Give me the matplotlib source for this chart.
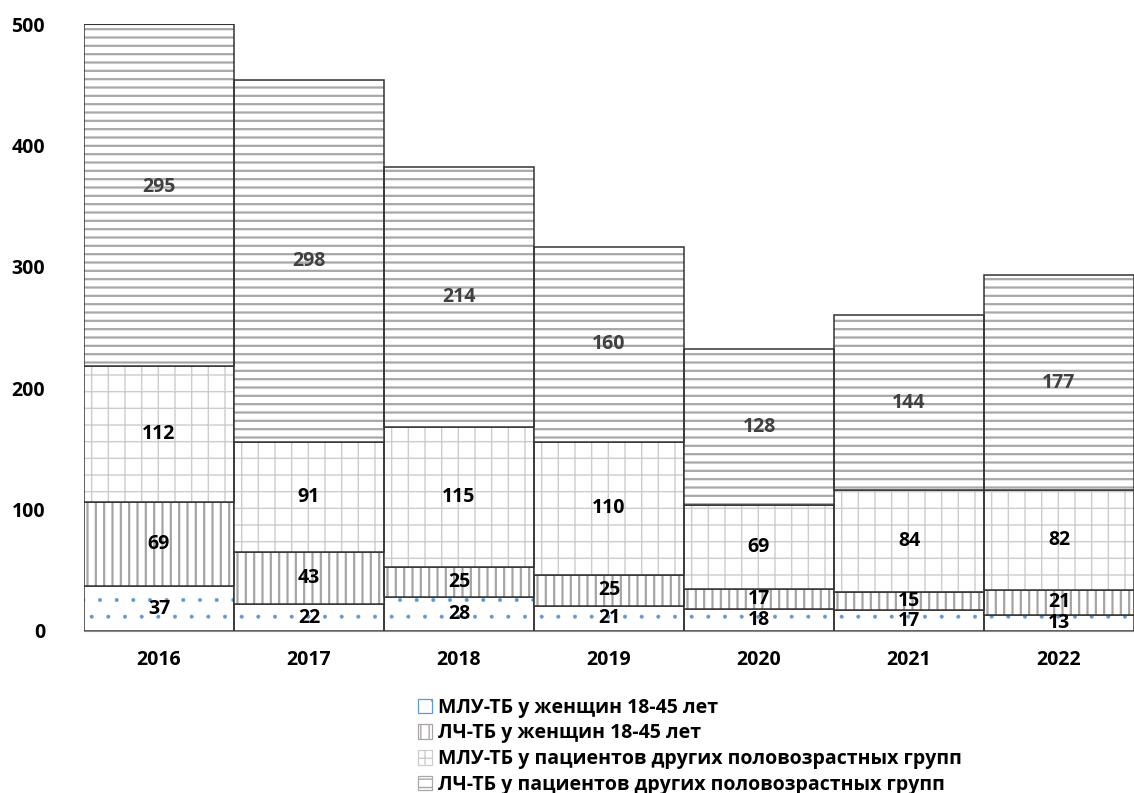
import numpy as np
import matplotlib
matplotlib.use('Agg')
import matplotlib.pyplot as plt
from matplotlib.patches import Patch

plt.rcParams['font.family'] = ['Open Sans', 'DejaVu Sans']

years = ['2016', '2017', '2018', '2019', '2020', '2021', '2022']
mdr_women = [37, 22, 28, 21, 18, 17, 13]
ds_women = [69, 43, 25, 25, 17, 15, 21]
mdr_other = [112, 91, 115, 110, 69, 84, 82]
ds_other = [295, 298, 214, 160, 128, 144, 177]

labels = ['МЛУ-ТБ у женщин 18-45 лет',
          'ЛЧ-ТБ у женщин 18-45 лет',
          'МЛУ-ТБ у пациентов других половозрастных групп',
          'ЛЧ-ТБ у пациентов других половозрастных групп']
series = [mdr_women, ds_women, mdr_other, ds_other]
hatches = ['.', '||', '+', '--']
hatch_colors = ['#5b9bd5', '#a8a4a4', '#cccccc', '#a8a8a8']
hatch_widths = [0.4, 1.6, 1.0, 1.6]
text_colors = ['black', 'black', 'black', '#404040']

FONTSIZE = 14

fig = plt.figure(figsize=(11.34, 7.93), dpi=100)
ax = fig.add_axes([84 / 1134, 1 - 631 / 793, 1050 / 1134, 607 / 793])

x = np.arange(len(years))
bottom = np.zeros(len(years))
handles = []
for vals, hatch, hc, hw, tc, lab in zip(series, hatches, hatch_colors, hatch_widths,
                                        text_colors, labels):
    vals = np.array(vals, dtype=float)
    with plt.rc_context({'hatch.linewidth': hw}):
        # hatch layer
        ax.bar(x, vals, width=1.0, bottom=bottom, color='white', edgecolor=hc,
               hatch=hatch, linewidth=0)
        handles.append(Patch(facecolor='white', edgecolor=hc, hatch=hatch,
                             linewidth=0.9))
    # outline layer
    ax.bar(x, vals, width=1.0, bottom=bottom, fill=False, edgecolor='#333333',
           linewidth=1.1)
    for xi, v, b in zip(x, vals, bottom):
        ax.text(xi, b + v / 2, '%d' % v, ha='center', va='center',
                fontsize=FONTSIZE, fontweight='bold', color=tc)
    bottom += vals

ax.set_xlim(-0.5, len(years) - 0.5)
ax.set_ylim(0, 500)
ax.set_yticks(np.arange(0, 501, 100))
ax.set_xticks(x)
ax.set_xticklabels(years)
ax.tick_params(axis='both', length=0, labelsize=FONTSIZE)
ax.tick_params(axis='y', pad=28)
ax.tick_params(axis='x', pad=14)
for lbl in ax.get_xticklabels() + ax.get_yticklabels():
    lbl.set_fontweight('bold')

for side in ['top', 'right', 'left']:
    ax.spines[side].set_visible(False)
ax.spines['bottom'].set_color('#888888')

# top edge of the clipped first bar
over = bottom > 500
ax.hlines([500] * int(over.sum()), x[over] - 0.5, x[over] + 0.5,
          color='#333333', linewidth=1.5)

leg = fig.legend(handles, labels, loc='upper left',
                 bbox_to_anchor=(400 / 1134, 1 - 680 / 793),
                 frameon=False, handlelength=0.75, handleheight=0.75,
                 handletextpad=0.3, labelspacing=0.3,
                 prop={'size': FONTSIZE, 'weight': 'bold'})

fig.savefig('out.png', dpi=100)
